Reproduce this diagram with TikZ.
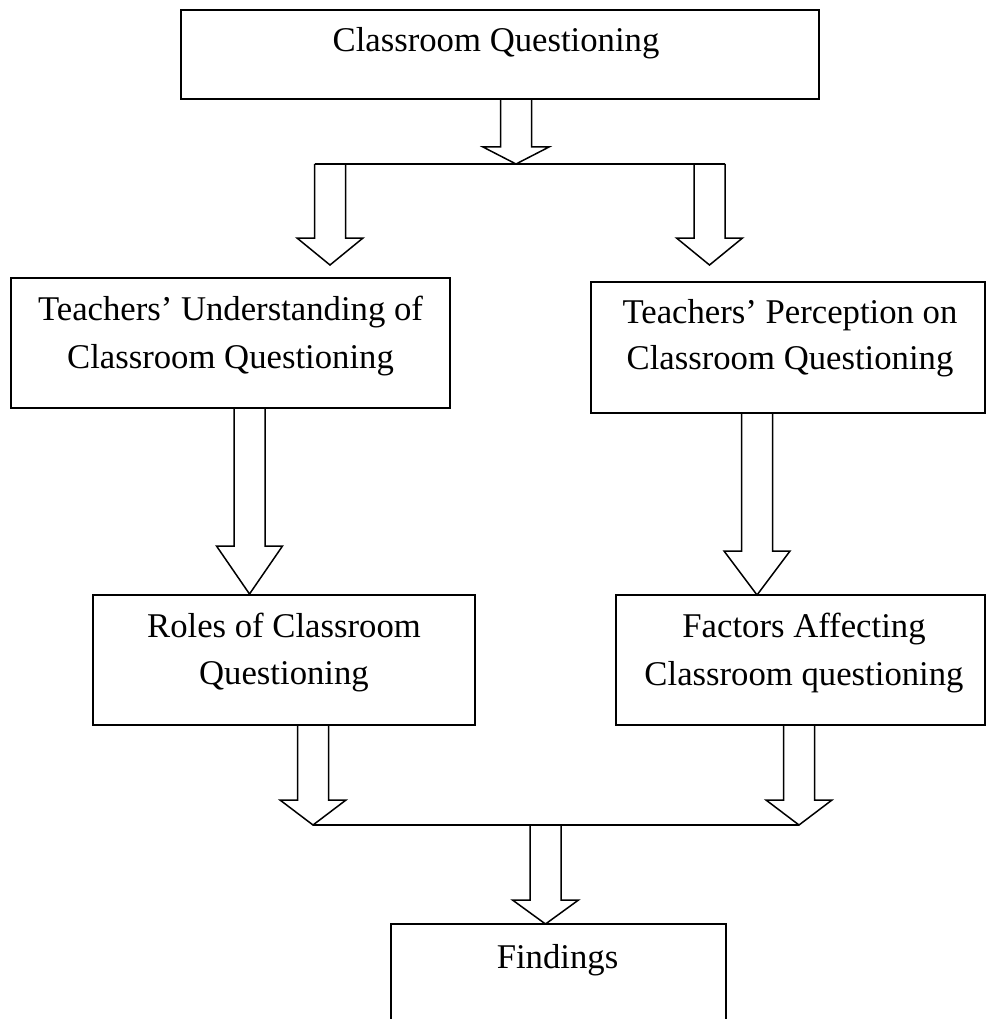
\documentclass[tikz,border=0pt]{standalone}
\usepackage{fontspec}
\setmainfont{Liberation Serif}
\tikzset{
  box/.style={draw, line width=1.5pt, inner sep=0pt},
  txt/.style={inner sep=0pt, anchor=base, align=center, font=\fontsize{34.7}{47}\selectfont},
  arrowline/.style={draw, line width=1.5pt, line join=miter},
}
\newcommand\blockarrow[4]{% cx, ytop, yneck, ytip
  \draw[arrowline] (#1-15.5,#2) -- (#1-15.5,#3) -- (#1-33,#3) -- (#1,#4) -- (#1+33,#3) -- (#1+15.5,#3) -- (#1+15.5,#2);}
\begin{document}
\begin{tikzpicture}[x=1pt,y=-1pt]
\clip (0,0) rectangle (987,1019);
\fill[white] (0,0) rectangle (987,1019);

% boxes
\node[box, minimum width=638, minimum height=89] (top) at (500,54.5) {};
\node[box, minimum width=439, minimum height=130] (und) at (230.5,343) {};
\node[box, minimum width=394, minimum height=131] (per) at (788,347.5) {};
\node[box, minimum width=382, minimum height=130] (rol) at (284,660) {};
\node[box, minimum width=369, minimum height=130] (fac) at (800.5,660) {};
\node[box, minimum width=335, minimum height=130] (fin) at (558.5,989) {};

% texts
\node[txt] (ttop) at (496,52) {Classroom Questioning};
\node[txt] (tund) at (230.5,320) {Teachers’ Understanding of};
\node[txt] (tund2) at (230.5,368) {Classroom Questioning};
\node[txt] (tper) at (790,323) {Teachers’ Perception on};
\node[txt] (tper2) at (790,369) {Classroom Questioning};
\node[txt] (trol) at (284,637) {Roles of Classroom};
\node[txt] (trol2) at (284,684) {Questioning};
\node[txt] (tfac) at (804,637) {Factors Affecting};
\node[txt] (tfac2) at (804,685) {Classroom questioning};
\node[txt] (tfin) at (557.5,968) {Findings};

% junction lines
\coordinate (j1l) at (314.5,164);
\coordinate (j1r) at (725,164);
\coordinate (j2l) at (313,825);
\coordinate (j2r) at (799,825);
\draw[arrowline] (j1l) -- (j1r);
\draw[arrowline] (j2l) -- (j2r);

% block arrows
\blockarrow{516}{99}{147}{164}
\blockarrow{330}{164}{238}{265}
\blockarrow{709.5}{164}{238}{265}
\blockarrow{249.5}{408}{546}{594}
\blockarrow{757}{413}{551}{595}
\blockarrow{313}{725}{800}{825}
\blockarrow{799}{725}{800}{825}
\blockarrow{545.5}{825}{900}{924}
\end{tikzpicture}
\end{document}
